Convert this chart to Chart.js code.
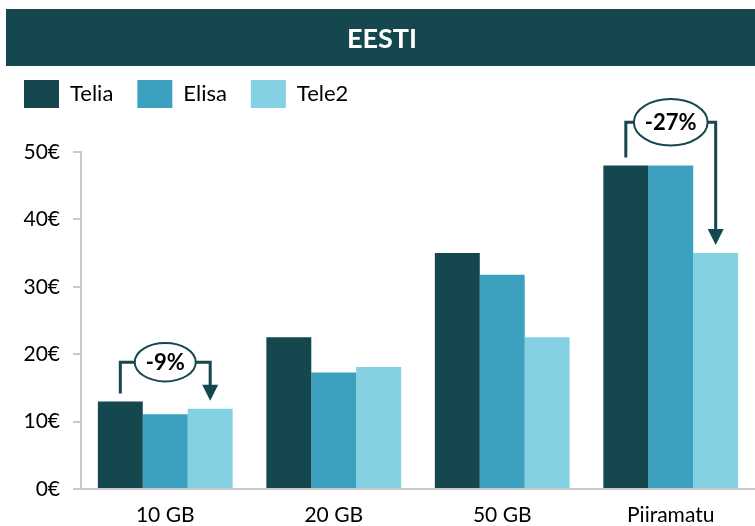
<!DOCTYPE html>
<html>
<head>
<meta charset="utf-8">
<script src="https://cdn.jsdelivr.net/npm/chart.js@4.4.1/dist/chart.umd.min.js"></script>
<style>
  html, body { margin: 0; padding: 0; background: #fff; }
  #wrap { width: 755px; height: 526px; }
</style>
</head>
<body>
<div id="wrap"><canvas id="myChart" width="755" height="526"></canvas></div>
<script>
const chartTitle = "EESTI";
const categories = ["10 GB", "20 GB", "50 GB", "Piiramatu"];
const telia = [13, 22.5, 35, 48];
const elisa = [11.1, 17.3, 31.8, 48];
const tele2 = [11.9, 18.1, 22.5, 35];
const yTicks = [0, 10, 20, 30, 40, 50];
// price gap callouts (Telia -> Tele2)
const calloutCategories = ["10 GB", "Piiramatu"];
const calloutLabels = ["-9%", "-27%"];

const DARK = "#15474f";
const MID = "#3ba1bf";
const LIGHT = "#84d1e4";
const AXIS = "#c9c9c9";
const FONT = "Lato, 'Open Sans', sans-serif";

const titleBar = {
  id: "titleBar",
  beforeDraw(chart) {
    const ctx = chart.ctx;
    ctx.save();
    ctx.fillStyle = "#fff";
    ctx.fillRect(0, 0, chart.width, chart.height);
    ctx.fillStyle = DARK;
    ctx.fillRect(6, 9, chart.width - 6, 57);
    ctx.fillStyle = "#fff";
    ctx.font = "bold 27px " + FONT;
    ctx.textAlign = "center";
    ctx.textBaseline = "middle";
    ctx.fillText(chartTitle, 382, 39);
    ctx.restore();
  },
};

const legendSpacer = {
  id: "legendSpacer",
  beforeInit(chart) {
    const fit = chart.legend.fit;
    chart.legend.fit = function () {
      fit.bind(chart.legend)();
      this.height = 96;
    };
  },
};

const callouts = {
  id: "callouts",
  afterDatasetsDraw(chart) {
    const ctx = chart.ctx;
    const first = chart.getDatasetMeta(0).data;
    const last = chart.getDatasetMeta(2).data;
    calloutCategories.forEach((cat, i) => {
      const idx = categories.indexOf(cat);
      const a = first[idx];
      const b = last[idx];
      ctx.save();
      ctx.font = "bold 22px " + FONT;
      const tw = ctx.measureText(calloutLabels[i]).width;
      const rx = tw / 2 + 11;
      const ry = rx * 0.63;
      const level = Math.min(a.y, b.y) - ry - 20;
      const xm = (a.x + b.x) / 2;

      ctx.strokeStyle = DARK;
      ctx.fillStyle = DARK;
      ctx.lineWidth = 3;
      ctx.beginPath();
      ctx.moveTo(a.x, a.y - 8);
      ctx.lineTo(a.x, level);
      ctx.lineTo(b.x, level);
      ctx.lineTo(b.x, b.y - 22);
      ctx.stroke();

      ctx.beginPath();
      ctx.moveTo(b.x - 8, b.y - 24);
      ctx.lineTo(b.x + 8, b.y - 24);
      ctx.lineTo(b.x, b.y - 8);
      ctx.closePath();
      ctx.fill();

      ctx.beginPath();
      ctx.ellipse(xm, level, rx, ry, 0, 0, Math.PI * 2);
      ctx.fillStyle = "#fff";
      ctx.fill();
      ctx.lineWidth = 2;
      ctx.stroke();

      ctx.fillStyle = "#000";
      ctx.textAlign = "center";
      ctx.textBaseline = "middle";
      ctx.fillText(calloutLabels[i], xm, level + 1);
      ctx.restore();
    });
  },
};

new Chart("myChart", {
  type: "bar",
  data: {
    labels: categories,
    datasets: [
      { label: "Telia", data: telia, backgroundColor: DARK },
      { label: "Elisa", data: elisa, backgroundColor: MID },
      { label: "Tele2", data: tele2, backgroundColor: LIGHT },
    ],
  },
  options: {
    responsive: false,
    animation: false,
    devicePixelRatio: 1,
    categoryPercentage: 0.8,
    barPercentage: 1,
    layout: { padding: { top: 56, left: 0, right: 0, bottom: 0 } },
    plugins: {
      tooltip: { enabled: false },
      legend: {
        position: "top",
        align: "start",
        labels: {
          boxWidth: 35,
          boxHeight: 28,
          padding: 24,
          color: "#000",
          font: { family: FONT, size: 22 },
        },
      },
    },
    scales: {
      x: {
        afterFit(scale) {
          scale.height = 37;
        },
        grid: { display: false, drawTicks: false },
        border: { display: true, color: AXIS, width: 2 },
        ticks: { color: "#000", font: { family: FONT, size: 21 }, padding: 14 },
      },
      y: {
        min: 0,
        max: 50,
        afterFit(scale) {
          scale.width = 81;
        },
        afterBuildTicks(scale) {
          scale.ticks = yTicks.map((v) => ({ value: v }));
        },
        grid: {
          drawOnChartArea: false,
          drawTicks: true,
          tickLength: 8,
          color: AXIS,
          lineWidth: 2,
        },
        border: { display: true, color: AXIS, width: 2 },
        ticks: {
          color: "#000",
          padding: 13,
          font: { family: FONT, size: 21 },
          callback: (v) => v + "€",
        },
      },
    },
  },
  plugins: [titleBar, legendSpacer, callouts],
});
</script>
</body>
</html>
